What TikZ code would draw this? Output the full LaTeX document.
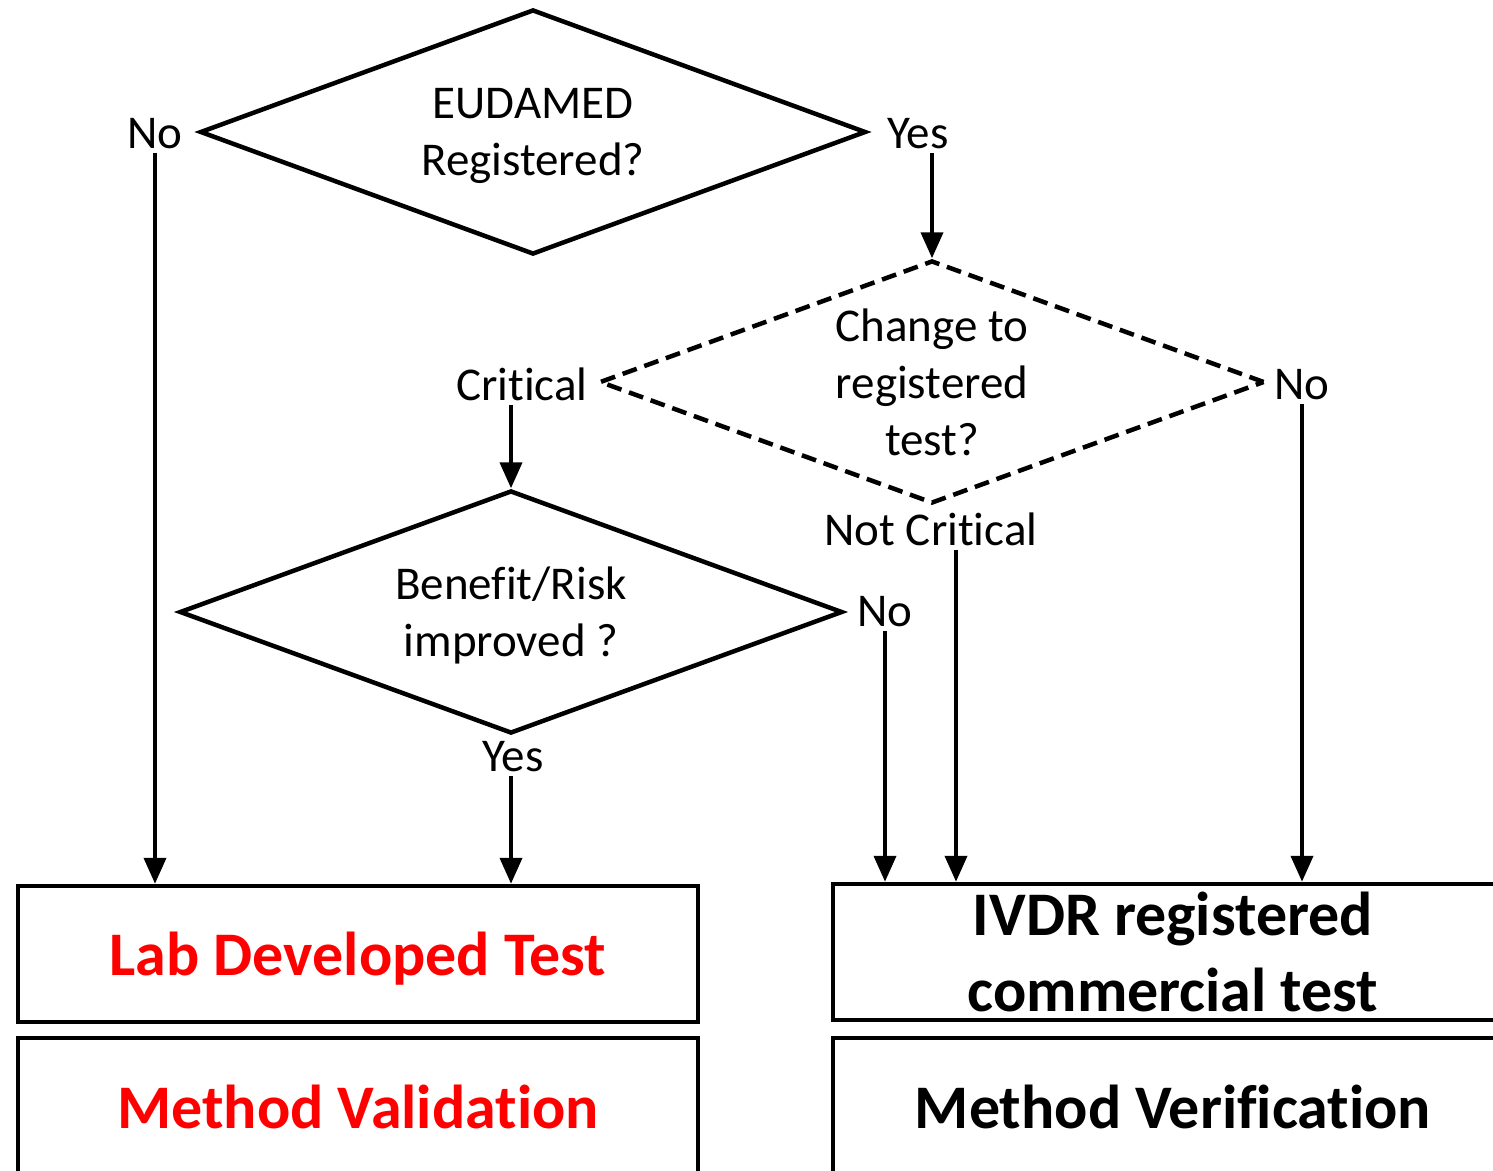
\documentclass[tikz,border=0pt]{standalone}
\usepackage{fontspec}
\setmainfont{Carlito}[Ligatures=NoCommon]
\usetikzlibrary{shapes.geometric,arrows.meta}
\newcommand{\flowfont}{\fontsize{47}{57}\selectfont}
\newcommand{\resultfont}{\bfseries\fontsize{62}{76}\selectfont}
\begin{document}
\begin{tikzpicture}[yscale=-1, x=1pt, y=1pt,
  decision/.style={diamond, draw, line width=4.5pt, aspect=2.72, inner sep=0pt, text depth=0pt, align=center, font=\flowfont},
  answer/.style={inner sep=4pt, font=\flowfont},
  result/.style={rectangle, draw, line width=4.5pt, inner sep=0pt, minimum width=680pt, align=center, font=\resultfont},
  flow/.style={line width=4pt, -{Triangle[width=22pt,length=26pt]}}]
% Colour definitions
\definecolor{ldtred}{rgb}{1,0,0}
% End of colour definitions
\useasboundingbox (0,0) rectangle (1493,1170);
\clip (0,0) rectangle (1493,1170);
% Decisions
\node[decision, minimum width=666pt, minimum height=245pt] (eudamed) at (533,132) {EUDAMED\\Registered?};
\node[decision, dash pattern=on 15pt off 8pt, minimum width=665pt, minimum height=243pt] (change) at (932,382) {Change to\\registered\\test?};
\node[decision, minimum width=663pt, minimum height=243pt] (benefit) at (511,612) {Benefit/Risk\\improved ?};
% Outcomes
\node[result, text=ldtred, minimum height=136pt, text depth=0pt] (ldt) at (358,954) {Lab Developed Test};
\node[result, text=ldtred, minimum height=138pt, text depth=0pt] (mval) at (358,1107) {Method Validation};
\node[result, minimum height=136pt] (ivdr) at (1173,952) {IVDR registered\\commercial test};
\node[result, minimum height=138pt, text depth=0pt] (mver) at (1173,1107) {Method Verification};
% Answers
\node[answer] (euNo) at (155,134) {No};
\node[answer] (euYes) at (918,134) {Yes};
\node[answer] (chCrit) at (522,384) {Critical};
\node[answer] (chNo) at (1302,385) {No};
\node[answer] (chNot) at (931,529) {Not Critical};
\node[answer] (beNo) at (885,612) {No};
\node[answer] (beYes) at (513,757) {Yes};
\coordinate (notX) at (956,0);
% Connectors
\draw[flow] (euNo.south) -- (euNo.south |- ldt.north);
\draw[flow] (euYes.south -| change.north) -- (change.north);
\draw[flow] (chCrit.south -| benefit.north) -- (benefit.north);
\draw[flow] (chNo.south) -- (chNo.south |- ivdr.north);
\draw[flow] (chNot.south -| notX) -- (notX |- ivdr.north);
\draw[flow] (beNo.south) -- (beNo.south |- ivdr.north);
\draw[flow] (beYes.south -| benefit.south) -- (benefit.south |- ldt.north);
\end{tikzpicture}
\end{document}
